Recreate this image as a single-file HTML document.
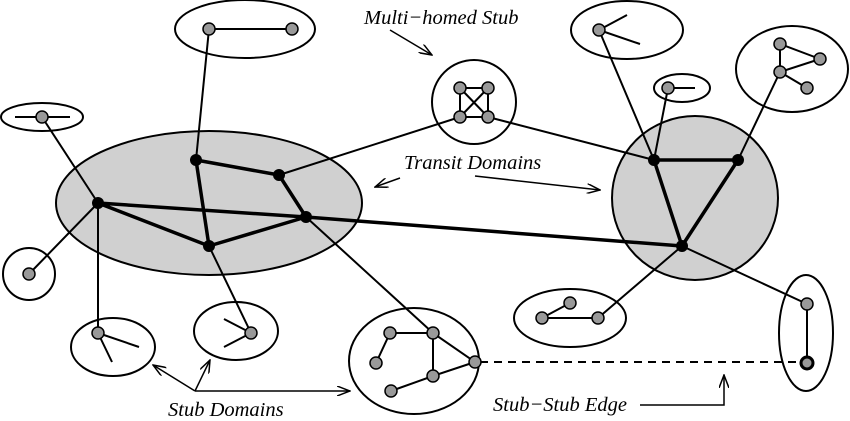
<!DOCTYPE html>
<html><head><style>body{margin:0;background:#fff}svg{display:block}</style></head><body>
<svg width="850" height="421" viewBox="0 0 850 421" xmlns="http://www.w3.org/2000/svg" font-family="Liberation Serif, serif" font-style="italic" font-size="20.5">
<defs><marker id="ar" markerWidth="14" markerHeight="10" refX="13" refY="5" orient="auto" markerUnits="userSpaceOnUse"><path d="M0,0 L13,5 L0,10" fill="none" stroke="#000" stroke-width="1.5"/></marker></defs>
<g stroke="#000" stroke-width="2" fill="none">
<ellipse cx="209" cy="203" rx="153" ry="72" fill="#d0d0d0"/>
<ellipse cx="695" cy="198" rx="83" ry="82" fill="#d0d0d0"/>
<ellipse cx="245" cy="29" rx="70" ry="29"/>
<ellipse cx="42" cy="117" rx="41" ry="14"/>
<circle cx="29" cy="274" r="26"/>
<ellipse cx="113" cy="347" rx="42" ry="29"/>
<ellipse cx="236" cy="331" rx="42" ry="29"/>
<ellipse cx="414" cy="361" rx="65" ry="53"/>
<circle cx="474" cy="102" r="42"/>
<ellipse cx="627" cy="30" rx="56" ry="29"/>
<ellipse cx="682" cy="88" rx="28" ry="14"/>
<ellipse cx="792" cy="69" rx="56" ry="43"/>
<ellipse cx="570" cy="318" rx="56" ry="29"/>
<ellipse cx="806" cy="333" rx="27" ry="58"/>
<path d="M209,29 L292,29 M209,29 L196,160 M15,117 L70,117 M42,117 L98,203 M29,274 L98,203 M98,203 L98,333 L139,347 M98,333 L112,362 M209,246 L251,333 L224,319 M251,333 L224,347 M306,217 L433,333 M390,333 L433,333 L475,362 L433,376 L433,333 M390,333 L376,363 M391,391 L433,376 M460,88 L488,88 L488,117 L460,117 Z M460,88 L488,117 M488,88 L460,117 M460,117 L279,175 M488,117 L654,160 M599,30 L627,15 M599,30 L640,44 M599,30 L654,160 M668,88 L695,88 M668,88 L654,160 M780,44 L780,72 L820,59 Z M780,72 L807,88 M780,72 L738,160 M542,318 L598,318 M542,318 L570,303 M598,318 L682,246 L807,304 L807,363"/>
<path d="M480,362 L800,362" stroke-dasharray="8,6"/>
<path d="M98,203 L209,246 L306,217 L279,175 L196,160 L209,246 M98,203 L306,217 L682,246 M682,246 L654,160 L738,160 L682,246" stroke-width="3.5" stroke-linejoin="round"/>
<g stroke-width="1.5">
<path d="M390,30 L432,55" marker-end="url(#ar)"/>
<path d="M400,178 L375,187" marker-end="url(#ar)"/>
<path d="M475,176 L600,190" marker-end="url(#ar)"/>
<path d="M195,391 L153,365" marker-end="url(#ar)"/>
<path d="M195,391 L210,360" marker-end="url(#ar)"/>
<path d="M195,391 L350,391" marker-end="url(#ar)"/>
<path d="M640,405 L724,405 L724,375" marker-end="url(#ar)"/>
</g>
</g>
<g fill="#000"><circle cx="98" cy="203" r="6"/><circle cx="196" cy="160" r="6"/><circle cx="279" cy="175" r="6"/><circle cx="306" cy="217" r="6"/><circle cx="209" cy="246" r="6"/><circle cx="654" cy="160" r="6"/><circle cx="738" cy="160" r="6"/><circle cx="682" cy="246" r="6"/></g>
<g fill="#999" stroke="#000" stroke-width="1.5">
<circle cx="209" cy="29" r="6"/><circle cx="292" cy="29" r="6"/><circle cx="42" cy="117" r="6"/><circle cx="29" cy="274" r="6"/><circle cx="98" cy="333" r="6"/><circle cx="251" cy="333" r="6"/>
<circle cx="390" cy="333" r="6"/><circle cx="433" cy="333" r="6"/><circle cx="376" cy="363" r="6"/><circle cx="475" cy="362" r="6"/><circle cx="433" cy="376" r="6"/><circle cx="391" cy="391" r="6"/>
<circle cx="460" cy="88" r="6"/><circle cx="488" cy="88" r="6"/><circle cx="460" cy="117" r="6"/><circle cx="488" cy="117" r="6"/>
<circle cx="599" cy="30" r="6"/><circle cx="668" cy="88" r="6"/><circle cx="780" cy="44" r="6"/><circle cx="820" cy="59" r="6"/><circle cx="780" cy="72" r="6"/><circle cx="807" cy="88" r="6"/>
<circle cx="542" cy="318" r="6"/><circle cx="570" cy="303" r="6"/><circle cx="598" cy="318" r="6"/><circle cx="807" cy="304" r="6"/><circle cx="807" cy="363" r="6" stroke-width="3"/>
</g>
<text x="364" y="24">Multi−homed Stub</text>
<text x="404" y="169">Transit Domains</text>
<text x="168" y="416">Stub Domains</text>
<text x="493" y="411">Stub−Stub Edge</text>
</svg>
</body></html>
